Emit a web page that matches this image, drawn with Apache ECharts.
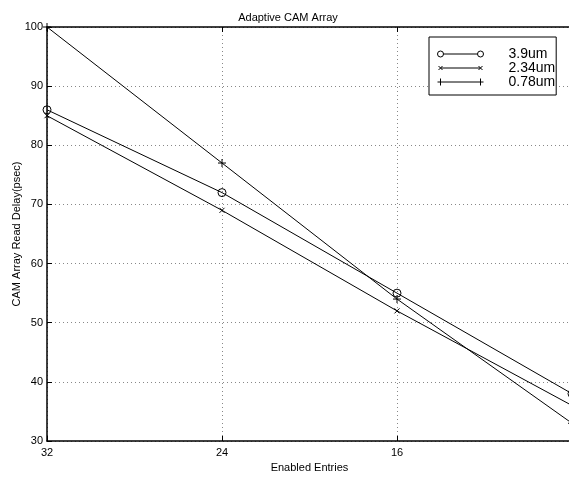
<!DOCTYPE html>
<html>
<head>
<meta charset="utf-8">
<script src="https://cdn.jsdelivr.net/npm/echarts@6/dist/echarts.min.js"></script>
<style>
  html, body { margin: 0; padding: 0; background: #fff; }
  #chart { width: 569px; height: 477px; }
</style>
</head>
<body>
<div id="chart"></div>
<script>
// enabled entries (x axis runs from 32 down to 8)
const entries = [32, 24, 16, 8]
const seriesNames = ['3.9um', '2.34um', '0.78um']
// read delay in psec
const delay39 = [86, 72, 55, 38]
const delay234 = [85, 69, 52, 36]
const delay078 = [100, 77, 54, 33]

const font = 'Liberation Sans, Arial, sans-serif'

// chart markers
const crossPath = 'path://M0,0L10,10M10,0L0,10'
const plusPath = 'path://M5,0L5,10M0,5L10,5'

// legend icons: line with a marker at each end (46px wide)
const legendCircle = 'path://M0,3.5a3,3 0 1,0 6,0a3,3 0 1,0 -6,0M6,3.5L40,3.5M40,3.5a3,3 0 1,0 6,0a3,3 0 1,0 -6,0'
const legendCross = 'path://M1,1L5,5M5,1L1,5M3,3L43,3M41,1L45,5M45,1L41,5M0,3L0,3M46,3L46,3'
const legendPlus = 'path://M0,3.5L46,3.5M3,0L3,7M43,0L43,7'

const toPairs = vals => entries.map((e, i) => [e, vals[i]])

const lineSeries = (name, vals, symbol, size) => ({
  name: name,
  type: 'line',
  data: toPairs(vals),
  symbol: symbol,
  symbolSize: size,
  showAllSymbol: true,
  color: '#000',
  lineStyle: { color: '#000', width: 1 },
  itemStyle: { color: 'rgba(0,0,0,0)', borderColor: '#000', borderWidth: 1 },
  emphasis: { disabled: true },
  animation: false
})

const chart = echarts.init(document.getElementById('chart'))
chart.setOption({
  animation: false,
  title: {
    text: 'Adaptive CAM Array',
    left: 283,
    textAlign: 'center',
    top: 7,
    textStyle: { fontFamily: font, fontSize: 11, fontWeight: 'normal', color: '#000' }
  },
  legend: {
    orient: 'vertical',
    left: 429,
    top: 37,
    padding: [10, 1, 6, 8],
    itemGap: 0,
    itemWidth: 46,
    itemHeight: 8,
    borderColor: '#000',
    borderWidth: 1,
    borderRadius: 0,
    backgroundColor: '#fff',
    itemStyle: { color: 'rgba(0,0,0,0)', borderColor: '#000', borderWidth: 1 },
    textStyle: { fontFamily: font, fontSize: 14, color: '#000', padding: [0, 0, 0, 20], lineHeight: 14 },
    data: [
      { name: seriesNames[0], icon: legendCircle },
      { name: seriesNames[1], icon: legendCross },
      { name: seriesNames[2], icon: legendPlus }
    ]
  },
  grid: { left: 47, top: 27, width: 525, height: 414, outerBoundsMode: 'none', containLabel: false },
  xAxis: [{
    type: 'value',
    inverse: true,
    min: 8,
    max: 32,
    interval: 8,
    name: 'Enabled Entries',
    nameLocation: 'middle',
    nameGap: 21,
    nameMoveOverlap: false,
    nameTextStyle: { fontFamily: font, fontSize: 11, color: '#000' },
    axisLine: { show: true, lineStyle: { color: '#000', width: 1.5 } },
    axisTick: { show: true, inside: true, length: 5, lineStyle: { color: '#000' } },
    axisLabel: {
      fontFamily: font, fontSize: 11, color: '#000', margin: 6,
      formatter: v => (v === 8 ? '' : String(v))
    },
    splitLine: { show: true, lineStyle: { color: '#888', type: [1, 3], width: 1 } }
  }, {
    type: 'value',
    position: 'top',
    inverse: true,
    min: 8,
    max: 32,
    interval: 8,
    axisLine: { show: true, lineStyle: { color: '#000', width: 1.5 } },
    axisTick: { show: true, inside: true, length: 5, lineStyle: { color: '#000' } },
    axisLabel: { show: false },
    splitLine: { show: false }
  }],
  yAxis: {
    type: 'value',
    min: 30,
    max: 100,
    interval: 10,
    name: 'CAM Array Read Delay(psec)',
    nameLocation: 'middle',
    nameGap: 25,
    nameMoveOverlap: false,
    nameTextStyle: { fontFamily: font, fontSize: 11, color: '#000' },
    axisLine: { show: true, lineStyle: { color: '#000', width: 1.5 } },
    axisTick: { show: true, inside: true, length: 5, lineStyle: { color: '#000' } },
    axisLabel: { fontFamily: font, fontSize: 11, color: '#000', margin: 4 },
    splitLine: { show: true, lineStyle: { color: '#888', type: [1, 3], width: 1 } }
  },
  series: [
    lineSeries(seriesNames[0], delay39, 'circle', 8),
    lineSeries(seriesNames[1], delay234, crossPath, 5),
    lineSeries(seriesNames[2], delay078, plusPath, 8)
  ]
})
</script>
</body>
</html>
